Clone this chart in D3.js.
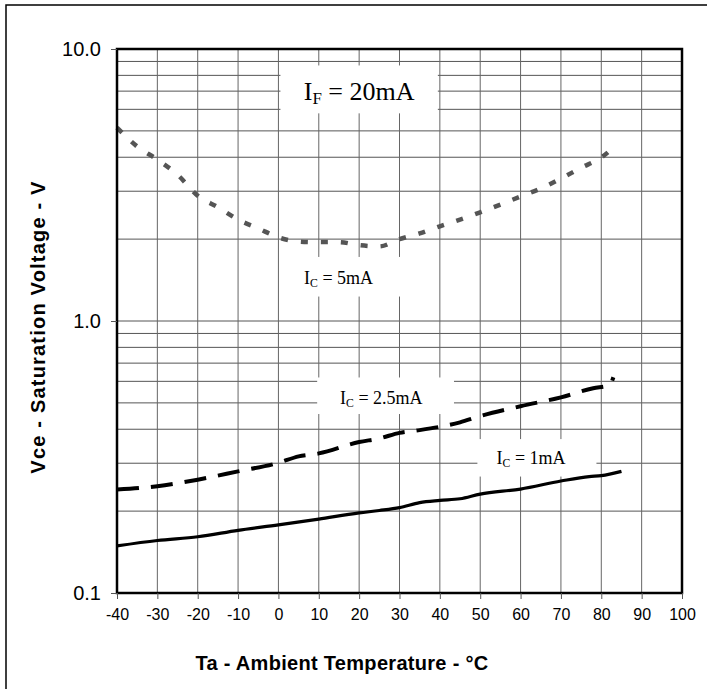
<html>
<head>
<meta charset="utf-8">
<style>
body { margin: 0; background: #fff; }
</style>
</head>
<body>
<div id="chart"></div>
<script src="https://d3js.org/d3.v7.min.js"></script>
<script>

// temperature (C), Vce sat (V)
var ic1mA = [[-40,0.149],[-30,0.156],[-20,0.161],[-10,0.170],[0,0.178],[10,0.187],[20,0.197],[25,0.201],[30,0.206],[35,0.215],[40,0.219],[45,0.222],[50,0.231],[60,0.241],[70,0.258],[77,0.268],[80,0.270],[85,0.280]]
var ic25mA = [[-40,0.240],[-30,0.247],[-20,0.261],[-10,0.280],[0,0.301],[5,0.318],[10,0.326],[20,0.359],[25,0.370],[30,0.388],[35,0.397],[45,0.424],[50,0.447],[60,0.486],[70,0.524],[78,0.566],[82,0.580],[83,0.621]]
var ic5mA = [[-40,5.14],[-35,4.38],[-30,3.92],[-25,3.45],[-20,2.89],[-15,2.62],[-10,2.36],[-5,2.19],[0,2.03],[5,1.96],[10,1.95],[15,1.95],[20,1.90],[25,1.88],[30,2.0],[35,2.10],[40,2.23],[45,2.36],[50,2.51],[55,2.68],[60,2.87],[65,3.07],[70,3.34],[75,3.66],[80,3.99],[83,4.34]]

var xTicks = [-40,-30,-20,-10,0,10,20,30,40,50,60,70,80,90,100]
var yTicks = [0.1, 1, 10]
var yTickLabels = ["0.1", "1.0", "10.0"]

// label text, subscript, rest, position (t, v), white box [t0, t1, v0, v1]
var labels = [
  {main: "I", sub: "F", rest: " = 20mA", t: 20, v: 6.5, size: 26, box: [0.5, 39.5, 8.7, 5.8]},
  {main: "I", sub: "C", rest: " = 5mA", t: 14.9, v: 1.366, size: 18, box: [0.6, 39.6, 1.72, 1.23]},
  {main: "I", sub: "C", rest: " = 2.5mA", t: 25.5, v: 0.494, size: 18, box: [9.6, 43.5, 0.62, 0.455]},
  {main: "I", sub: "C", rest: " = 1mA", t: 62.6, v: 0.297, size: 18, box: [49.3, 78.8, 0.368, 0.268]}
]

var margin = {top: 49, right: 25, bottom: 96, left: 117};
var W = 707, H = 689;
var width = W - margin.left - margin.right,
    height = H - margin.top - margin.bottom;

var svg = d3.select("#chart")
  .append("svg")
  .attr("width", W)
  .attr("height", H)

// outer frame
svg.append("rect")
  .attr("x", 6).attr("y", 5)
  .attr("width", W + 20).attr("height", H + 20)
  .attr("fill", "none")
  .attr("stroke", "#000")
  .attr("stroke-width", 1.5)

var g = svg.append("g")
  .attr("transform", "translate(" + margin.left + "," + margin.top + ")");

var x = d3.scaleLinear()
  .domain([-40, 100])
  .range([0, width])

var y = d3.scaleLog()
  .domain([0.1, 10])
  .range([height, 0])

// grid lines
var minor = []
;[0.1, 1].forEach(function(dec){
  for (var k = 2; k <= 9; k++) minor.push(dec * k)
})

g.selectAll(".hgrid")
  .data(minor.concat([1]))
  .enter().append("line")
  .attr("class", "hgrid")
  .attr("x1", 0).attr("x2", width)
  .attr("y1", d => y(d)).attr("y2", d => y(d))
  .attr("stroke", "#555")
  .attr("stroke-width", 1)

g.selectAll(".vgrid")
  .data(xTicks.slice(1, -1))
  .enter().append("line")
  .attr("class", "vgrid")
  .attr("x1", d => x(d)).attr("x2", d => x(d))
  .attr("y1", 0).attr("y2", height)
  .attr("stroke", "#666")
  .attr("stroke-width", 1)

// white boxes behind the labels
g.selectAll(".lblbox")
  .data(labels)
  .enter().append("rect")
  .attr("class", "lblbox")
  .attr("x", d => x(d.box[0]))
  .attr("y", d => y(d.box[2]))
  .attr("width", d => x(d.box[1]) - x(d.box[0]))
  .attr("height", d => y(d.box[3]) - y(d.box[2]))
  .attr("fill", "#fff")

// curves
var line = d3.line()
  .x(d => x(d[0]))
  .y(d => y(d[1]))
  .curve(d3.curveMonotoneX)

g.append("path")
  .datum(ic1mA)
  .attr("d", line)
  .attr("fill", "none")
  .attr("stroke", "#000")
  .attr("stroke-width", 3.2)

g.append("path")
  .datum(ic25mA)
  .attr("d", line)
  .attr("fill", "none")
  .attr("stroke", "#000")
  .attr("stroke-width", 4)
  .attr("stroke-dasharray", "22,12")

g.append("path")
  .datum(ic5mA)
  .attr("d", line)
  .attr("fill", "none")
  .attr("stroke", "#555")
  .attr("stroke-width", 4.5)
  .attr("stroke-dasharray", "7,13")

// plot frame
g.append("rect")
  .attr("x", 0).attr("y", 0)
  .attr("width", width).attr("height", height)
  .attr("fill", "none")
  .attr("stroke", "#000")
  .attr("stroke-width", 2.5)

// axes
var xAxis = d3.axisBottom(x)
  .tickValues(xTicks)
  .tickFormat(d => String(d))
  .tickSize(6)
  .tickPadding(10)

var yAxis = d3.axisLeft(y)
  .tickValues(yTicks)
  .tickFormat((d, i) => yTickLabels[i])
  .tickSize(6)
  .tickPadding(10)

var gx = g.append("g")
  .attr("class", "x axis")
  .attr("transform", "translate(0," + height + ")")
  .call(xAxis)
gx.select(".domain").remove()
gx.selectAll("line").attr("stroke", "#555")
gx.selectAll("text")
  .attr("font-family", "'Liberation Sans', Arial, sans-serif")
  .attr("font-size", 16)
  .attr("fill", "#000")

var gy = g.append("g")
  .attr("class", "y axis")
  .call(yAxis)
gy.select(".domain").remove()
gy.selectAll("line").attr("stroke", "#555")
gy.selectAll("text")
  .attr("font-family", "'Liberation Sans', Arial, sans-serif")
  .attr("font-size", 20)
  .attr("fill", "#000")

// curve labels
var lbl = g.selectAll(".lbl")
  .data(labels)
  .enter().append("text")
  .attr("class", "lbl")
  .attr("x", d => x(d.t))
  .attr("y", d => y(d.v))
  .attr("text-anchor", "middle")
  .attr("font-family", "'Liberation Serif', 'Times New Roman', serif")
  .attr("font-size", d => d.size)
  .attr("fill", "#000")
lbl.append("tspan").text(d => d.main)
lbl.append("tspan")
  .attr("font-size", d => d.size * 0.65)
  .attr("dy", d => d.size * 0.15)
  .text(d => d.sub)
lbl.append("tspan")
  .attr("dy", d => -d.size * 0.15)
  .text(d => d.rest)

// axis titles
svg.append("text")
  .attr("x", 342)
  .attr("y", 670)
  .attr("text-anchor", "middle")
  .attr("font-family", "'Liberation Sans', Arial, sans-serif")
  .attr("font-weight", "bold")
  .attr("font-size", 20)
  .attr("letter-spacing", 0.3)
  .text("Ta - Ambient Temperature - \u00B0C")

svg.append("text")
  .attr("transform", "translate(45,327) rotate(-90)")
  .attr("text-anchor", "middle")
  .attr("font-family", "'Liberation Sans', Arial, sans-serif")
  .attr("font-weight", "bold")
  .attr("font-size", 20)
  .attr("letter-spacing", 1.2)
  .text("Vce - Saturation Voltage - V")

</script>
</body>
</html>
